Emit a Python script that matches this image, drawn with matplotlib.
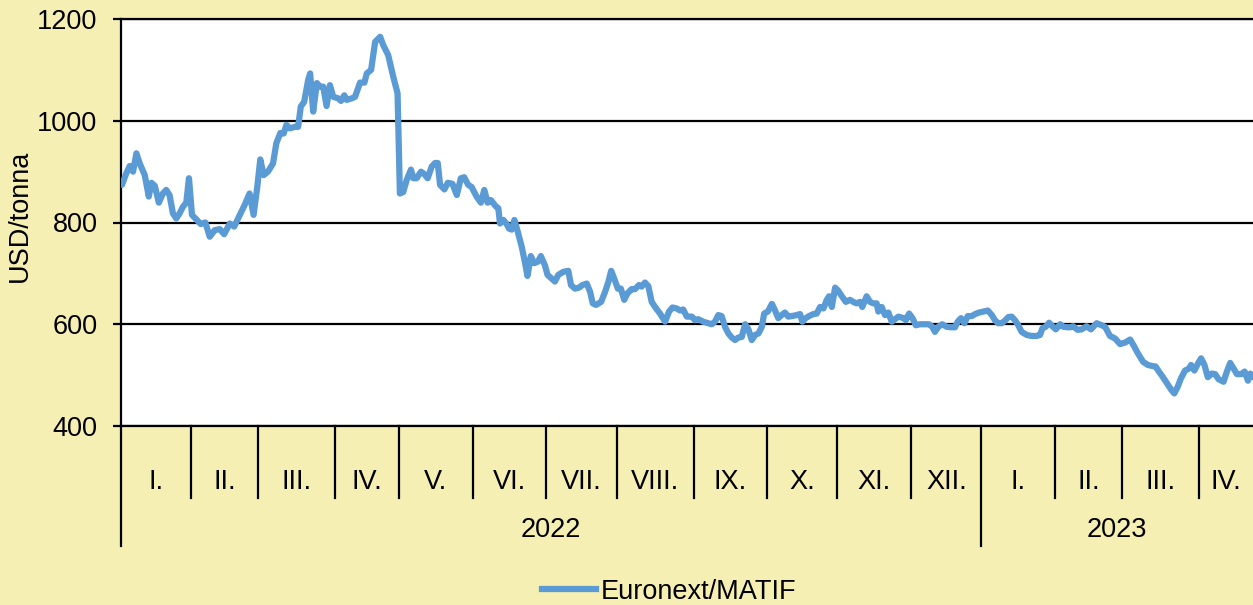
import numpy as np
import matplotlib
matplotlib.use("Agg")
import matplotlib.pyplot as plt

plt.rcParams['font.family'] = ['Liberation Sans', 'DejaVu Sans']

# trading-day number (from 3 Jan 2022) and Euronext/MATIF price, USD/tonna
days = [0.3, 1.6, 2.6, 3.6, 4.6, 5.6, 7.1, 8.3, 9.1, 10.1,
        11.3, 12.5, 13.5, 14.5, 15.5, 16.5, 17.5, 18.5, 19.5, 20.3,
        21.2, 22.5, 23.8, 25.2, 26.5, 28.0, 29.5, 30.8, 32.5, 33.8,
        35.5, 36.9, 38.4, 39.6, 40.7, 41.6, 42.6, 43.9, 45.4, 46.4,
        47.6, 48.6, 49.4, 50.4, 51.9, 52.9, 53.7, 54.7, 55.9,
        56.5, 57.4, 58.5, 59.4, 60.4, 61.4, 62.4, 63.4, 64.9, 65.7,
        66.7, 67.4, 68.9, 69.9, 71.4, 72.7, 73.4, 74.7, 75.9, 77.4,
        78.3, 79.8, 81.3, 82.6, 83.3, 84.3, 85.3, 86.6, 87.3, 88.3,
        89.6, 90.6, 91.6, 92.8, 93.8, 94.6, 95.3, 96.6, 97.6, 99.0,
        100.3, 101.5, 102.5, 103.7, 104.7, 106.2, 107.5, 108.5, 109.5, 110.5,
        111.9,
        112.7, 113.2, 114.2, 115.2, 115.9, 116.7, 117.5, 118.5, 119.7, 120.7,
        121.4, 122.4, 123.4, 124.5, 125.4, 126.6, 127.4, 128.6, 129.6, 130.6,
        132.1, 133.6, 134.4, 135.6, 136.8, 137.8, 139.1, 140.1, 140.9, 141.9,
        143.4, 144.6, 145.6, 146.4, 147.3, 148.4, 149.3, 150.3, 151.3, 152.5,
        153.5, 154.7, 155.5, 156.5, 157.5, 158.5, 159.5, 161.0, 162.5, 163.7,
        164.7, 166.0, 167.0, 167.9, 169.0,
        170.5, 171.4, 172.4, 173.9, 174.9, 176.4, 177.4, 178.4, 179.4, 180.4,
        181.4, 182.4, 183.4, 184.4, 185.4, 186.4, 187.4, 188.4, 189.4, 190.4,
        191.4, 192.1, 193.2, 194.4, 195.3, 196.3, 197.3, 198.3, 199.3, 200.3,
        201.8, 202.8, 203.5, 204.5, 205.5, 206.8, 207.8, 208.8, 209.8, 210.8,
        211.5, 212.3, 213.3, 214.2, 215.3, 216.5, 217.7, 218.7, 219.7, 220.7,
        221.4, 222.7, 223.7, 224.7, 225.7,
        226.2, 227.2, 228.2, 229.2, 230.2, 231.2, 232.2, 233.7, 234.4, 235.4,
        236.4, 237.4, 238.6, 240.1, 241.3, 242.3, 243.1, 244.1, 245.3, 246.6,
        248.1, 249.1, 249.9, 250.9, 251.9, 252.9, 254.1, 255.1, 256.3, 257.6,
        258.9, 260.1, 261.0, 262.0, 263.0, 264.0, 265.0, 266.0, 267.0, 268.0,
        269.0, 270.5, 272.0, 273.5, 274.5, 275.2, 276.2, 277.2, 278.2, 279.2,
        280.5, 281.5, 282.8,
        283.5, 284.4, 285.7, 286.9, 288.4, 289.7, 291.4, 292.9, 293.9, 295.4,
        296.9, 298.4, 299.9, 301.4, 302.4, 303.7, 305.3, 306.7, 308.0, 309.0,
        310.0, 311.0, 312.3, 313.6, 314.6, 315.6, 316.6, 317.8, 319.0, 319.6,
        320.6, 321.6, 322.6, 323.6, 324.6, 325.8, 326.8, 327.8, 329.3, 330.3,
        331.3, 332.3, 333.3, 334.6, 335.6, 336.6, 337.3, 338.2]

prices = [874, 897, 911, 900, 936, 916, 893, 851, 878, 872,
          839, 857, 864, 854, 818, 808, 818, 831, 839, 887,
          815, 806, 797, 800, 772, 785, 787, 777, 798, 792,
          815, 834, 857, 815, 870, 924, 893, 900, 916, 956,
          976, 975, 992, 985, 988, 988, 1028, 1037, 1080,
          1093, 1018, 1074, 1067, 1067, 1029, 1070, 1047, 1044, 1039,
          1050, 1041, 1044, 1047, 1075, 1075, 1093, 1100, 1155, 1165,
          1149, 1129, 1087, 1054, 857, 860, 883, 904, 887, 887,
          900, 895, 887, 910, 917, 917, 874, 865, 878, 876,
          854, 887, 889, 874, 870, 851, 839, 864, 839, 844,
          832,
          828, 798, 805, 797, 788, 786, 805, 782, 752, 720,
          695, 734, 720, 723, 734, 716, 697, 690, 684, 697,
          703, 705, 677, 670, 672, 677, 680, 664, 641, 638,
          644, 664, 684, 705, 690, 670, 670, 648, 661, 669,
          669, 677, 674, 682, 675, 644, 634, 621, 605, 625,
          633, 631, 627, 629, 615,
          615, 608, 610, 605, 603, 600, 605, 618, 616, 595,
          582, 574, 569, 574, 575, 600, 590, 569, 579, 582,
          595, 621, 625, 640, 628, 612, 618, 623, 615, 616,
          618, 620, 605, 612, 616, 620, 621, 634, 631, 648,
          655, 634, 672, 666, 655, 644, 648, 644, 641, 644,
          634, 655, 644, 641, 641,
          625, 634, 618, 623, 605, 610, 615, 612, 608, 621,
          612, 598, 600, 600, 600, 595, 585, 595, 600, 595,
          594, 594, 605, 612, 602, 616, 616, 620, 623, 625,
          627, 618, 608, 602, 602, 607, 614, 615, 608, 598,
          585, 579, 577, 577, 579, 592, 595, 603, 596, 590,
          600, 595, 594,
          594, 596, 589, 590, 596, 590, 602, 598, 595, 577,
          572, 561, 564, 570, 559, 543, 526, 520, 518, 517,
          507, 498, 485, 472, 464, 477, 494, 509, 513, 520,
          509, 522, 533, 520, 496, 503, 502, 492, 487, 507,
          524, 513, 502, 502, 507, 489, 503, 496]

month_days = [21, 20, 23, 19, 22, 22, 21, 23, 22, 21, 22, 21, 22, 20, 23, 18]
month_labels = ['I.', 'II.', 'III.', 'IV.', 'V.', 'VI.', 'VII.', 'VIII.',
                'IX.', 'X.', 'XI.', 'XII.', 'I.', 'II.', 'III.', 'IV.']
years = ['2022', '2023']
year_months = [12, 4]

bg = '#F6EFB4'
blue = '#5B9BD5'
x_end = 338.1
fs = 19.5

fig = plt.figure(figsize=(12.53, 6.05), dpi=100, facecolor=bg)
ax = fig.add_axes([121 / 1253, 1 - 426 / 605, 1 - 121 / 1253, 407 / 605])
ax.set_facecolor('white')

ax.plot(days, prices, color=blue, lw=4.5, solid_joinstyle='round',
        solid_capstyle='round', zorder=3)

ax.set_xlim(0, x_end)
ax.set_ylim(400, 1200)
ax.set_yticks(np.arange(400, 1201, 200))
ax.set_xticks([])
ax.yaxis.grid(True, color='black', lw=1.6)
ax.set_axisbelow(True)
ax.spines['right'].set_visible(False)
for s in ['left', 'top', 'bottom']:
    ax.spines[s].set_linewidth(1.6)
    ax.spines[s].set_color('black')
ax.tick_params(axis='y', direction='out', length=6, width=1.6, pad=11,
               labelsize=fs)

fig.text(20 / 1253, 1 - 216 / 605, 'USD/tonna', rotation=90, fontsize=fs,
         ha='center', va='center')

# category axis: months and years
trans = ax.get_xaxis_transform()
bounds = np.concatenate([[0], np.cumsum(month_days)])
year_bounds = [0, bounds[year_months[0]]]
month_bottom = -0.177
year_bottom = -0.295
ax.plot([0, 0], [0, year_bottom], transform=trans, color='black', lw=1.6,
        clip_on=False)
for b in bounds[1:-1]:
    bottom = year_bottom if b in year_bounds else month_bottom
    ax.plot([b, b], [0, bottom], transform=trans, color='black', lw=1.6,
            clip_on=False)
for i, lab in enumerate(month_labels):
    left = bounds[i]
    right = min(bounds[i + 1], x_end)
    ax.text((left + right) / 2, -0.138, lab, transform=trans, fontsize=fs,
            ha='center', va='center')
ends = [bounds[year_months[0]], x_end]
for i, yr in enumerate(years):
    ax.text((year_bounds[i] + ends[i]) / 2, -0.255, yr, transform=trans,
            fontsize=fs, ha='center', va='center')

fig.legend([plt.Line2D([], [], color=blue, lw=4.5)], ['Euronext/MATIF'],
           loc='center', bbox_to_anchor=(0.534, 0.022), frameon=False,
           fontsize=fs, handlelength=2.0, handletextpad=0.15)

fig.savefig('out.png', dpi=100, facecolor=bg)
